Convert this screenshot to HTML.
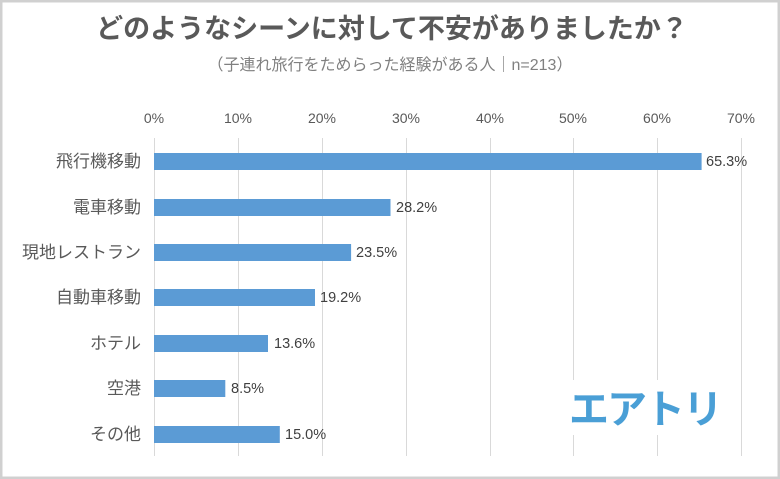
<!DOCTYPE html>
<html><head><meta charset="utf-8"><style>
html,body{margin:0;padding:0;background:#fff}
svg{display:block}
text{font-family:"Liberation Sans","Noto Sans CJK JP",sans-serif}
</style></head><body>
<svg width="780" height="479" viewBox="0 0 780 479">
<rect x="1" y="1" width="778" height="477" fill="#fff" stroke="#d0d0d0" stroke-width="3"/>
<text x="392" y="38" text-anchor="middle" font-size="27" font-weight="bold" fill="#595959">どのようなシーンに対して不安がありましたか？</text>
<text x="390" y="70" text-anchor="middle" font-size="16" fill="#808080">（子連れ旅行をためらった経験がある人｜n=213）</text>
<g font-size="14" fill="#595959" text-anchor="middle">
<text x="154" y="123">0%</text><text x="238" y="123">10%</text><text x="322" y="123">20%</text><text x="406" y="123">30%</text><text x="490" y="123">40%</text><text x="573" y="123">50%</text><text x="657" y="123">60%</text><text x="741" y="123">70%</text>
</g>
<g stroke="#d9d9d9" stroke-width="1">
<line x1="154.5" y1="138" x2="154.5" y2="456"/><line x1="238.5" y1="138" x2="238.5" y2="456"/><line x1="322.5" y1="138" x2="322.5" y2="456"/><line x1="406.5" y1="138" x2="406.5" y2="456"/><line x1="490.5" y1="138" x2="490.5" y2="456"/><line x1="573.5" y1="138" x2="573.5" y2="456"/><line x1="657.5" y1="138" x2="657.5" y2="456"/><line x1="741.5" y1="138" x2="741.5" y2="456"/>
</g>
<rect x="560" y="380" width="170" height="55" fill="#fff"/>
<g fill="#5b9bd5">
<rect x="154" y="153" width="547.6" height="17"/>
<rect x="154" y="199" width="236.5" height="17"/>
<rect x="154" y="244" width="197.1" height="17"/>
<rect x="154" y="289" width="161" height="17"/>
<rect x="154" y="335" width="114" height="17"/>
<rect x="154" y="380" width="71.3" height="17"/>
<rect x="154" y="426" width="125.8" height="17"/>
</g>
<g font-size="14.5" fill="#404040">
<text x="706" y="166">65.3%</text>
<text x="396" y="212">28.2%</text>
<text x="356" y="257">23.5%</text>
<text x="320" y="302">19.2%</text>
<text x="274" y="348">13.6%</text>
<text x="231" y="393">8.5%</text>
<text x="285" y="439">15.0%</text>
</g>
<g font-size="17" fill="#595959" text-anchor="end">
<text x="141" y="167">飛行機移動</text>
<text x="141" y="213">電車移動</text>
<text x="141" y="258">現地レストラン</text>
<text x="141" y="303">自動車移動</text>
<text x="141" y="349">ホテル</text>
<text x="141" y="394">空港</text>
<text x="141" y="440">その他</text>
</g>
<text x="645" y="423" text-anchor="middle" font-size="40" font-weight="bold" fill="#4a9fd6" letter-spacing="-2">エアトリ</text>
</svg>
</body></html>
